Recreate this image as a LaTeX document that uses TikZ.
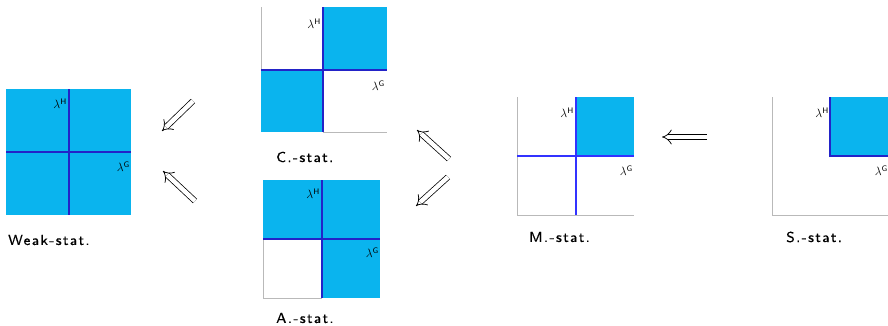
\documentclass[tikz,border=0pt]{standalone}
\usepackage{fontspec}
\newfontfamily\ttlfont[LetterSpace=9,FakeBold=0.3]{lmsans8-regular.otf}
\usetikzlibrary{arrows.meta}
\definecolor{cyanfill}{RGB}{10,180,238}
\definecolor{darkaxis}{RGB}{35,35,200}
\definecolor{brightaxis}{RGB}{50,50,255}
\definecolor{grayaxis}{RGB}{185,185,185}
\begin{document}
\begin{tikzpicture}[x=1pt,y=-1pt,
  region/.style={fill=cyanfill,draw=none},
  baseaxis/.style={draw=grayaxis,line width=1pt},
  blueaxis/.style={draw=darkaxis,line width=1.5pt},
  brightblue/.style={draw=brightaxis,line width=1.5pt},
  lab/.style={inner sep=0pt,font=\fontsize{12}{13}\selectfont},
  title/.style={inner sep=0pt,anchor=west,font=\ttlfont\fontsize{14.5}{16}\selectfont},
  impl/.style={double,double distance=4.5pt,line width=0.75pt,-{Implies[length=7pt,width=13pt]}}]
\useasboundingbox (0,0) rectangle (888,325);
% Weak
\fill[region] (6,89) rectangle (131,215);
\draw[blueaxis] (69,89) -- (69,215);
\draw[blueaxis] (6,152) -- (131,152);
\node[lab,anchor=south east] (wH) at (67,109) {$\lambda^{\mathsf{H}}$};
\node[lab,anchor=south east] (wG) at (130,172) {$\lambda^{\mathsf{G}}$};
\node[title] (wT) at (8,240) {Weak-stat.};
% C
\fill[region] (323,7) rectangle (387,70);
\fill[region] (261,70) rectangle (323,132);
\draw[baseaxis] (261,7) -- (261,70);
\draw[baseaxis] (323,132) -- (387,132);
\draw[blueaxis] (323,7) -- (323,132);
\draw[blueaxis] (261,70) -- (387,70);
\node[lab,anchor=south east] (cH) at (321,29) {$\lambda^{\mathsf{H}}$};
\node[lab,anchor=south east] (cG) at (385,91) {$\lambda^{\mathsf{G}}$};
\node[title] (cT) at (276,157) {C.-stat.};
% A
\fill[region] (263,180) rectangle (380,239);
\fill[region] (322,239) rectangle (380,298);
\draw[baseaxis] (263,239) -- (263,298) -- (322,298);
\draw[blueaxis] (322,180) -- (322,298);
\draw[blueaxis] (263,239) -- (380,239);
\node[lab,anchor=south east] (aH) at (320,199) {$\lambda^{\mathsf{H}}$};
\node[lab,anchor=south east] (aG) at (379,258) {$\lambda^{\mathsf{G}}$};
\node[title] (aT) at (276,318) {A.-stat.};
% M
\fill[region] (576,97) rectangle (634,156);
\draw[baseaxis] (517,97) -- (517,215) -- (634,215);
\draw[brightblue] (576,97) -- (576,215);
\draw[brightblue] (517,156) -- (634,156);
\node[lab,anchor=south east] (mH) at (574,118) {$\lambda^{\mathsf{H}}$};
\node[lab,anchor=south east] (mG) at (633,176) {$\lambda^{\mathsf{G}}$};
\node[title] (mT) at (529,237) {M.-stat.};
% S
\fill[region] (830,97) rectangle (888,156);
\draw[baseaxis] (772,97) -- (772,215) -- (888,215);
\draw[blueaxis,line width=1.2pt] (830,97) -- (830,156) -- (888,156);
\node[lab,anchor=south east] (sH) at (829,118) {$\lambda^{\mathsf{H}}$};
\node[lab,anchor=south east] (sG) at (888,176) {$\lambda^{\mathsf{G}}$};
\node[title] (sT) at (786,237) {S.-stat.};
% arrow endpoints
\coordinate (c2wA) at (193,101);
\coordinate (c2wB) at (162,131);
\coordinate (a2wA) at (195,201);
\coordinate (a2wB) at (163,171);
\coordinate (m2cA) at (449,159);
\coordinate (m2cB) at (417,130);
\coordinate (m2aA) at (448,177);
\coordinate (m2aB) at (416,206);
\coordinate (s2mA) at (707,137);
\coordinate (s2mB) at (662,137);
\draw[impl] (c2wA) -- (c2wB);
\draw[impl] (a2wA) -- (a2wB);
\draw[impl] (m2cA) -- (m2cB);
\draw[impl] (m2aA) -- (m2aB);
\draw[impl] (s2mA) -- (s2mB);
\end{tikzpicture}
\end{document}
